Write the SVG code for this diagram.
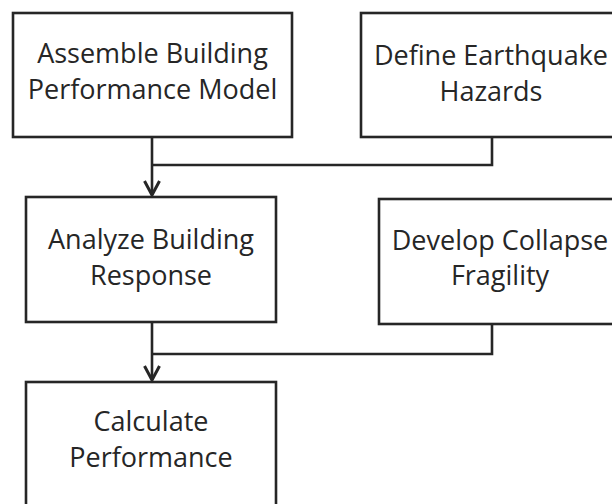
<svg xmlns="http://www.w3.org/2000/svg" width="612" height="504" viewBox="0 0 612 504">
<style>
.box{fill:#fff;stroke:#262626;stroke-width:2.6}
.lbl{font-family:"Open Sans","Noto Sans",sans-serif;font-size:27px;fill:#262626;text-anchor:middle}
.con{fill:none;stroke:#262626;stroke-width:2.6}
</style>
<defs>
<marker id="arr" viewBox="-20 -12 24 24" markerWidth="24" markerHeight="24" markerUnits="userSpaceOnUse" orient="auto" refX="0" refY="0">
<path d="M-14,-7.5 L0,0 L-14,7.5" fill="none" stroke="#262626" stroke-width="3"/>
</marker>
</defs>
<rect width="612" height="504" fill="#fff"/>
<g id="n1"><rect class="box" x="13" y="13" width="279" height="124"/>
<text class="lbl" x="152.5" y="63">Assemble Building</text>
<text class="lbl" x="152.5" y="99">Performance Model</text></g>
<g id="n2"><rect class="box" x="361" y="13" width="262" height="124"/>
<text class="lbl" x="491" y="65">Define Earthquake</text>
<text class="lbl" x="491" y="101">Hazards</text></g>
<g id="n3"><rect class="box" x="26" y="197" width="250" height="125"/>
<text class="lbl" x="151" y="249">Analyze Building</text>
<text class="lbl" x="151" y="285">Response</text></g>
<g id="n4"><rect class="box" x="379" y="199" width="244" height="125"/>
<text class="lbl" x="500" y="250">Develop Collapse</text>
<text class="lbl" x="500" y="285">Fragility</text></g>
<g id="n5"><rect class="box" x="26" y="382" width="250" height="140"/>
<text class="lbl" x="151" y="431">Calculate</text>
<text class="lbl" x="151" y="467">Performance</text></g>
<g id="connectors">
<path class="con" d="M152,137 V195" marker-end="url(#arr)"/>
<path class="con" d="M492,137 V165 H152"/>
<path class="con" d="M152,322 V380" marker-end="url(#arr)"/>
<path class="con" d="M492,324 V354 H152"/>
</g>
</svg>
